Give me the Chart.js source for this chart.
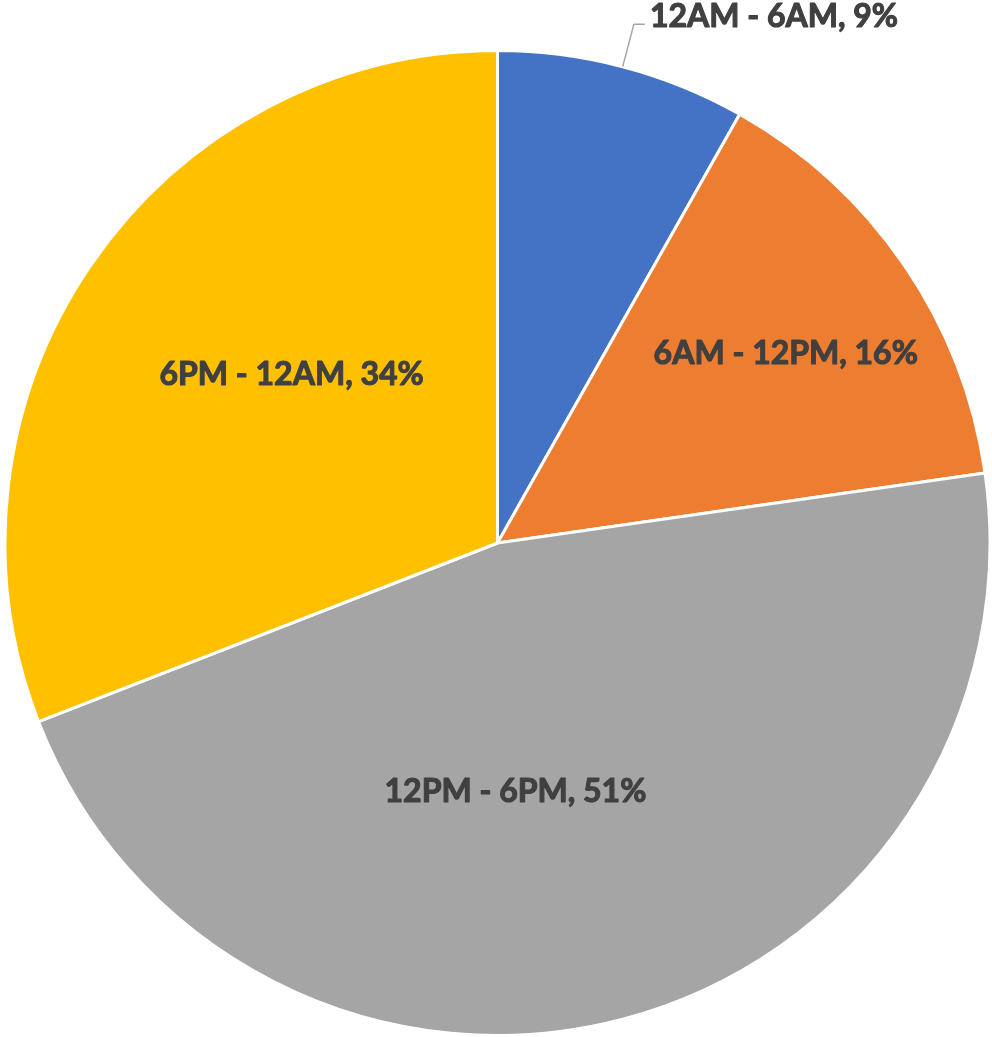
<!DOCTYPE html>
<html>
<head>
<meta charset="utf-8">
<script src="https://cdn.jsdelivr.net/npm/chart.js@4/dist/chart.umd.min.js"></script>
<style>
html,body{margin:0;padding:0;background:#fff;}
#wrap{width:992px;height:1037px;}
</style>
</head>
<body>
<div id="wrap"><canvas id="c" width="992" height="1037"></canvas></div>
<script>
const categories = ["12AM - 6AM", "6AM - 12PM", "12PM - 6PM", "6PM - 12AM"];
const values = [9, 16, 51, 34];
const colors = ["#4472C4", "#ED7D31", "#A5A5A5", "#FFC000"];

// label placement (polar, relative to slice): angle offset (deg) from mid angle, radius fraction; outside flag
const labelPlace = [
  {outside: true},
  {dAng: 1.1, frac: 0.70},
  {dAng: 10.6, frac: 0.507},
  {dAng: 4.9, frac: 0.54}
];

const labelPlugin = {
  id: 'pieLabels',
  afterDatasetsDraw(chart) {
    const ctx = chart.ctx;
    const meta = chart.getDatasetMeta(0);
    ctx.save();
    ctx.font = 'bold 32px Lato, "Open Sans", sans-serif';
    ctx.fillStyle = '#404040';
    ctx.strokeStyle = '#404040';
    ctx.lineJoin = 'round';
    const drawText = (t, x, y) => {
      ctx.lineWidth = 1.1;
      ctx.strokeStyle = '#404040';
      ctx.strokeText(t, x, y);
      ctx.fillText(t, x, y);
    };
    meta.data.forEach((arc, i) => {
      const p = arc.getProps(['x','y','startAngle','endAngle','outerRadius'], true);
      const mid = (p.startAngle + p.endAngle) / 2;
      const text = categories[i] + ', ' + values[i] + '%';
      const pl = labelPlace[i];
      if (pl.outside) {
        const x0 = p.x + Math.cos(mid) * p.outerRadius;
        const y0 = p.y + Math.sin(mid) * p.outerRadius;
        const x1 = p.x + Math.cos(mid) * (p.outerRadius + 44);
        const y1 = p.y + Math.sin(mid) * (p.outerRadius + 44);
        ctx.strokeStyle = '#A6A6A6';
        ctx.lineWidth = 1.5;
        ctx.beginPath();
        ctx.moveTo(x0, y0);
        ctx.lineTo(x1, y1);
        ctx.lineTo(x1 + 11, y1);
        ctx.stroke();
        ctx.textAlign = 'left';
        ctx.textBaseline = 'middle';
        drawText(text, x1 + 16, y1 - 7);
      } else {
        const a = mid + pl.dAng * Math.PI / 180;
        const r = p.outerRadius * pl.frac;
        ctx.textAlign = 'center';
        ctx.textBaseline = 'middle';
        drawText(text, p.x + Math.cos(a) * r, p.y + Math.sin(a) * r);
      }
    });
    ctx.restore();
  }
};

new Chart(document.getElementById('c'), {
  type: 'pie',
  data: {
    labels: categories,
    datasets: [{
      data: values,
      backgroundColor: colors,
      borderColor: '#FFFFFF',
      borderWidth: 3,
      hoverOffset: 0
    }]
  },
  options: {
    responsive: false,
    animation: false,
    events: [],
    layout: {padding: {top: 49, left: 3, right: 0, bottom: 0}},
    plugins: {
      legend: {display: false},
      tooltip: {enabled: false}
    }
  },
  plugins: [labelPlugin]
});
</script>
</body>
</html>
